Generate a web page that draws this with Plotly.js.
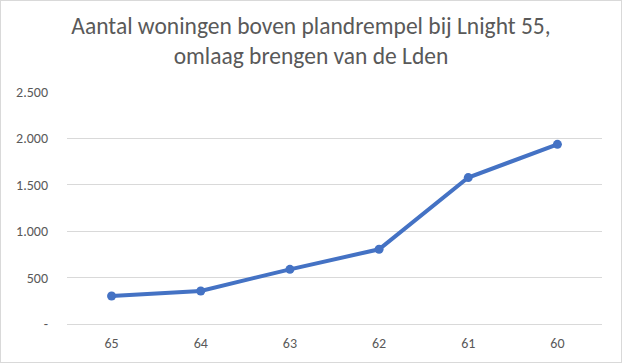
<!DOCTYPE html>
<html><head><meta charset="utf-8">
<script src="https://cdn.plot.ly/plotly-3.0.1.min.js"></script>
<style>
html,body{margin:0;padding:0;background:#fff;}
#wrap{position:relative;width:622px;height:363px;}
#chart{position:absolute;left:0;top:0;width:622px;height:363px;}
#border{position:absolute;left:0;top:0;width:620px;height:361px;border:1px solid #d9d9d9;pointer-events:none;}
</style></head>
<body>
<div id="wrap"><div id="chart"></div><div id="border"></div></div>
<script>
const categories = ["65", "64", "63", "62", "61", "60"];
const values = [302, 356, 589, 805, 1578, 1936];
const yTickVals = [0, 500, 1000, 1500, 2000, 2500];
const yTickText = ["-", "500", "1.000", "1.500", "2.000", "2.500"];
const titleText = "Aantal woningen boven plandrempel bij Lnight 55,<br>omlaag brengen van de Lden";

const FONT = "Carlito, Calibri, Lato, sans-serif";
const trace = {
  x: categories, y: values, type: "scatter", mode: "lines+markers",
  line: {color: "#4472C4", width: 4},
  marker: {color: "#4472C4", size: 9},
  hoverinfo: "skip"
};
const layout = {
  width: 622, height: 363,
  margin: {l: 67, r: 20, t: 92, b: 39},
  paper_bgcolor: "#ffffff", plot_bgcolor: "#ffffff",
  showlegend: false,
  font: {family: FONT, color: "#595959", size: 14},
  title: {text: titleText, font: {family: FONT, size: 23.5, color: "#595959"},
          x: 0.5, xanchor: "center", y: 0.907, yanchor: "middle", yref: "container"},
  xaxis: {type: "category", range: [-0.5, 5.5], showgrid: false, zeroline: false,
          showline: false, ticks: "", tickfont: {family: FONT, size: 14, color: "#595959"},
          ticklabelstandoff: 9, fixedrange: true},
  yaxis: {range: [0, 2500], tickvals: yTickVals, ticktext: yTickText,
          showgrid: true, gridcolor: "#d9d9d9", gridwidth: 1,
          zeroline: true, zerolinecolor: "#d9d9d9", zerolinewidth: 1,
          showline: false, ticks: "", tickfont: {family: FONT, size: 14, color: "#595959"},
          ticklabelstandoff: 18, fixedrange: true}
};
Plotly.newPlot("chart", [trace], layout, {displayModeBar: false, staticPlot: true});
</script>
</body></html>
